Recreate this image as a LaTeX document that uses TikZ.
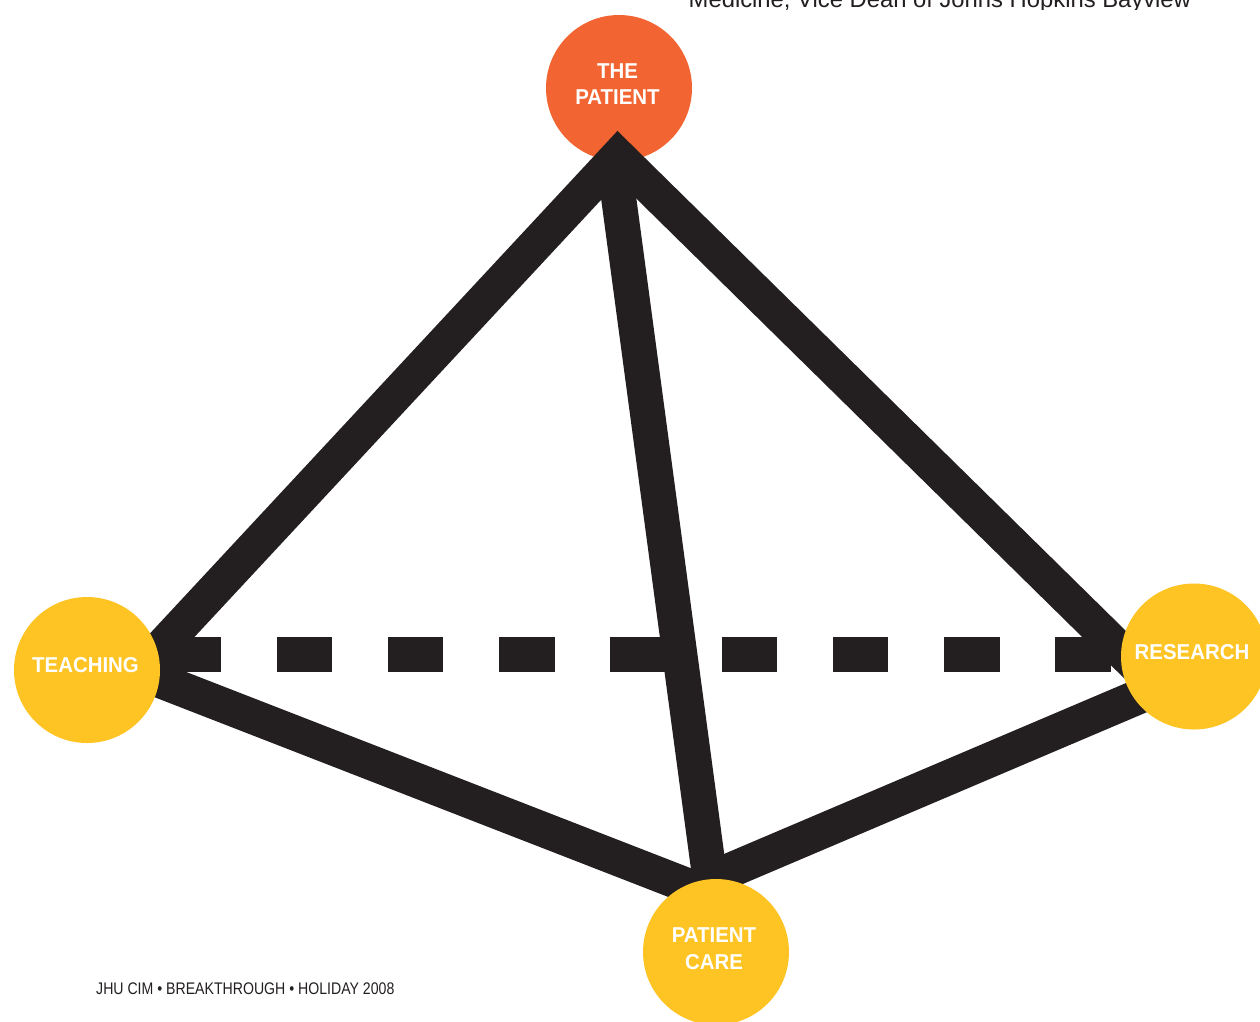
\documentclass[tikz,border=0pt]{standalone}
\usepackage{fontspec}
\newfontfamily\lblfont[FakeStretch=0.95]{Liberation Sans}
\newfontfamily\footfont[FakeStretch=0.84]{Liberation Sans}
\newfontfamily\topfont{Liberation Sans}
\definecolor{ink}{HTML}{231F20}
\definecolor{orangec}{HTML}{F26532}
\definecolor{yellowc}{HTML}{FDC423}
\begin{document}
\begin{tikzpicture}[x=1pt,y=-1pt,
  circ/.style={circle,minimum size=146pt,inner sep=0pt,draw=none},
  lbl/.style={text=white,font=\lblfont\bfseries\fontsize{21.5}{26.7}\selectfont,align=center,inner sep=0pt},
  bar/.style={draw=ink,line width=35pt,line join=miter}]
\useasboundingbox (0,0) rectangle (1260,1021);
% top circle (under the lines)
\node[circ,fill=orangec] (pat) at (619,88) {};
% vertices
\coordinate (vt) at (138,672);
\coordinate (va) at (618,156);
\coordinate (vr) at (1159,688);
\coordinate (vp) at (691,887);
\coordinate (mt) at (613,156);
\coordinate (mb) at (711,887);
\coordinate (dl) at (165.4,654.5);
\coordinate (dr) at (1121,654.5);
% lines
\draw[bar] (vt) -- (va) -- (vr) -- (vp) -- cycle;
\draw[bar] (mt) -- (mb);
\draw[bar,dash pattern=on 55.5pt off 55.75pt] (dl) -- (dr);
% yellow circles
\node[circ,fill=yellowc] (teach) at (87,670) {};
\node[circ,fill=yellowc] (res) at (1194,656.5) {};
\node[circ,fill=yellowc] (care) at (716,952) {};
% labels
\node[lbl] (patT) at ([xshift=-1.5pt,yshift=4pt]pat.center) {THE\\PATIENT};
\node[lbl] (teachT) at ([xshift=-1.5pt,yshift=5pt]teach.center) {TEACHING};
\node[lbl] (resT) at ([xshift=-2pt,yshift=4pt]res.center) {RESEARCH};
\node[lbl] (careT) at ([xshift=-2pt,yshift=3pt]care.center) {PATIENT\\CARE};
% footer
\node[anchor=base west,inner sep=0pt,text=ink,font=\footfont\fontsize{16.8}{20}\selectfont] (foot) at (96,994.3) {JHU CIM • BREAKTHROUGH • HOLIDAY 2008};
% clipped top text
\begin{scope}
\clip (0,0) rectangle (1260,9);
\node[anchor=base west,inner sep=0pt,text=ink,font=\topfont\fontsize{23.8}{28}\selectfont] (toptext) at (688.5,7.5) {Medicine, Vice Dean of Johns Hopkins Bayview};
\end{scope}
\end{tikzpicture}
\end{document}
